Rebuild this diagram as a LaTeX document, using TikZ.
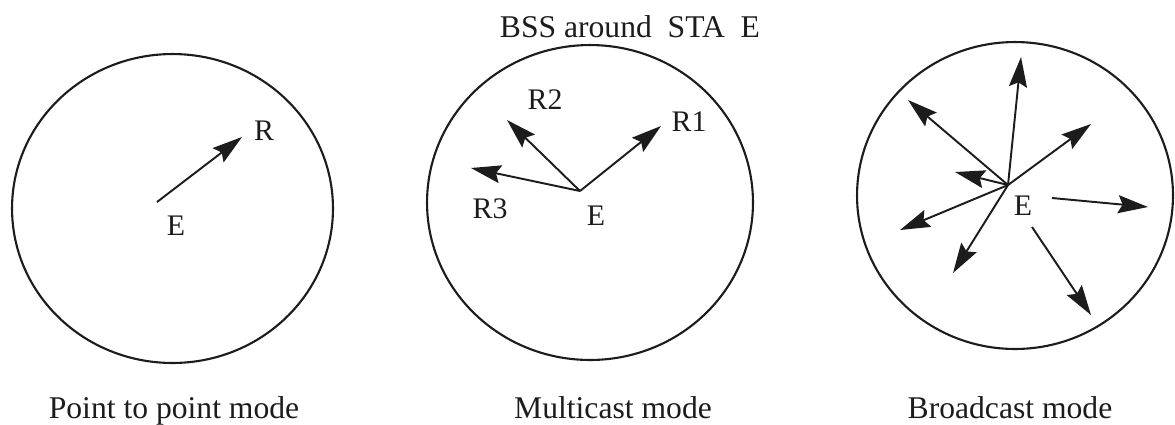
\documentclass[tikz,border=0pt]{standalone}
\usepackage{fontspec}
\setmainfont{Liberation Serif}
\usetikzlibrary{arrows.meta}
\definecolor{ink}{HTML}{1C1C1C}
\tikzset{
  ring/.style={draw=ink, line width=1.2pt},
  ray/.style={draw=ink, line width=1.1pt, -{Stealth[length=0.6cm, width=0.36cm, inset=0.09cm]}},
  lbl/.style={inner sep=0pt, text=ink, font=\fontsize{17}{19}\selectfont},
  caption/.style={inner sep=0pt, text=ink, font=\fontsize{18}{20}\selectfont, anchor=base},
}
\begin{document}
\begin{tikzpicture}[x=0.02cm, y=-0.02cm]
\useasboundingbox (0,0) rectangle (1175,424);
% circles
\draw[ring] (172.5,208.5) ellipse[x radius=3.21cm, y radius=3.09cm];
\draw[ring] (590,202.5) ellipse[x radius=3.26cm, y radius=3.15cm];
\draw[ring] (1015,195.5) ellipse[x radius=3.16cm, y radius=3.07cm];
% title and captions
\node[caption] (title) at (630,37) {BSS around\ \ STA\ \ E};
\node[caption] (c1) at (174,418) {Point to point mode};
\node[caption] (c2) at (613,418) {Multicast mode};
\node[caption] (c3) at (1010,418) {Broadcast mode};
% point to point
\coordinate (e1) at (157,202);
\coordinate (r1t) at (242,137);
\node[lbl] (R) at (264,131) {R};
\node[lbl] (E1) at (176,226) {E};
\draw[ray] (e1) -- (r1t);
% multicast
\coordinate (e2) at (580,191);
\coordinate (m1) at (661,126);
\coordinate (m2) at (507,120);
\coordinate (m3) at (471,168);
\node[lbl] (R1) at (689,122) {R1};
\node[lbl] (R2) at (545,100) {R2};
\node[lbl] (R3) at (490,209) {R3};
\node[lbl] (E2) at (596,216) {E};
\draw[ray] (e2) -- (m1);
\draw[ray] (e2) -- (m2);
\draw[ray] (e2) -- (m3);
% broadcast
\coordinate (e3) at (1008,185);
\coordinate (b1) at (1021,57);
\coordinate (b2) at (908,100);
\coordinate (b3) at (1091,124);
\coordinate (b4) at (955,172);
\coordinate (b5) at (900,230);
\coordinate (b6) at (953,273);
\coordinate (s7) at (1052,198);
\coordinate (b7) at (1148,207);
\coordinate (s8) at (1032,227);
\coordinate (b8) at (1091,315);
\node[lbl] (E3) at (1023,206) {E};
\draw[ray] (e3) -- (b1);
\draw[ray] (e3) -- (b2);
\draw[ray] (e3) -- (b3);
\draw[ray] (e3) -- (b4);
\draw[ray] (e3) -- (b5);
\draw[ray] (e3) -- (b6);
\draw[ray] (s7) -- (b7);
\draw[ray] (s8) -- (b8);
\end{tikzpicture}
\end{document}
